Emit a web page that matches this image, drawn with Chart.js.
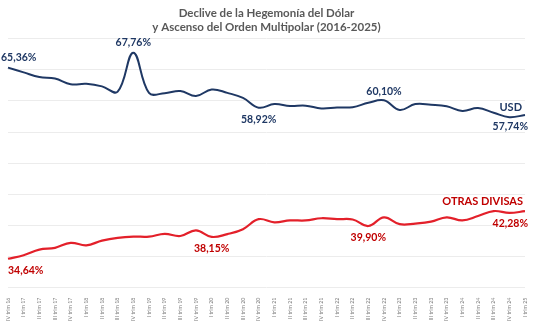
<!DOCTYPE html>
<html>
<head>
<meta charset="utf-8">
<script src="https://cdn.jsdelivr.net/npm/chart.js@4"></script>
<style>
  html, body { margin: 0; padding: 0; background: #fff; }
  #wrap { width: 535px; height: 325px; }
</style>
</head>
<body>
<div id="wrap"><canvas id="divisasChart"></canvas></div>
<script>
const quarters = [
    'IV trim 16',
    'I trim 17', 'II trim 17', 'III trim 17', 'IV trim 17',
    'I trim 18', 'II trim 18', 'III trim 18', 'IV trim 18',
    'I trim 19', 'II trim 19', 'III trim 19', 'IV trim 19',
    'I trim 20', 'II trim 20', 'III trim 20', 'IV trim 20',
    'I trim 21', 'II trim 21', 'III trim 21', 'IV trim 21',
    'I trim 22', 'II trim 22', 'III trim 22', 'IV trim 22',
    'I trim 23', 'II trim 23', 'III trim 23', 'IV trim 23',
    'I trim 24', 'II trim 24', 'III trim 24', 'IV trim 24',
    'I trim 25'
];

const usd = [
    65.36, 64.6, 63.85, 63.6, 62.7, 62.75, 62.35, 61.5, 67.76,
    61.3, 61.25, 61.6, 60.8, 61.85, 61.3, 60.5, 58.92,
    59.5, 59.2, 59.25, 58.8, 58.95, 59.0, 59.7, 60.10,
    58.55, 59.5, 59.4, 59.15, 58.4, 58.85, 58.1, 57.4, 57.74
];

const otras = [
    34.64, 35.2, 36.1, 36.4, 37.2, 36.8, 37.55, 38.0, 38.2,
    38.2, 38.65, 38.3, 39.2, 38.15, 38.6, 39.4, 41.0,
    40.5, 40.8, 40.8, 41.15, 41.0, 40.95, 39.90, 41.3,
    40.2, 40.3, 40.6, 41.3, 40.8, 41.5, 42.3, 42.0, 42.28
];

// points that carry a value label
const usdLabelIdx = [0, 8, 16, 24, 33];
const otrasLabelIdx = [0, 13, 23, 33];

const fmt = v => v.toFixed(2).replace('.', ',') + '%';

// small inline label plugin (no datalabels plugin available)
const pointLabels = {
    id: 'pointLabels',
    afterDatasetsDraw(chart) {
        const ctx = chart.ctx;
        const specs = [
            { ds: 0, color: '#1F3864', idx: usdLabelIdx,
              place: { 0: ['left', -7, -10], 8: ['center', 0, -10], 16: ['center', 0, 12], 24: ['center', 0, -9], 33: ['right', 3, 12] } },
            { ds: 1, color: '#C00000', idx: otrasLabelIdx,
              place: { 0: ['left', 0, 12], 13: ['center', 0, 12], 23: ['center', 0, 12], 33: ['right', 3, 12] } }
        ];
        ctx.save();
        ctx.font = 'bold 10.5px Lato, "Open Sans", sans-serif';
        ctx.textBaseline = 'middle';
        specs.forEach(s => {
            const meta = chart.getDatasetMeta(s.ds);
            const values = chart.data.datasets[s.ds].data;
            ctx.fillStyle = s.color;
            s.idx.forEach(i => {
                const pt = meta.data[i];
                const [align, dx, dy] = s.place[i];
                ctx.textAlign = align;
                ctx.fillText(fmt(values[i]), pt.x + dx, pt.y + dy);
            });
        });
        // series names at the end of each line
        const lastU = chart.getDatasetMeta(0).data[usd.length - 1];
        const lastO = chart.getDatasetMeta(1).data[otras.length - 1];
        ctx.font = 'bold 11px Lato, "Open Sans", sans-serif';
        ctx.textAlign = 'right';
        ctx.fillStyle = '#1F3864';
        ctx.fillText('USD', lastU.x - 3, lastU.y - 8);
        ctx.fillStyle = '#C00000';
        ctx.fillText('OTRAS DIVISAS', lastO.x - 2, lastO.y - 10);
        ctx.restore();
    }
};

const chart = new Chart(document.getElementById('divisasChart'), {
    type: 'line',
    data: {
        labels: quarters,
        datasets: [{
            label: 'USD',
            data: usd,
            borderColor: '#1F3864',
            borderWidth: 2,
            pointRadius: 0,
            tension: 0.4,
            fill: false
        }, {
            label: 'OTRAS DIVISAS',
            data: otras,
            borderColor: '#E3202A',
            borderWidth: 2.2,
            pointRadius: 0,
            tension: 0.4,
            fill: false
        }]
    },
    options: {
        responsive: true,
        maintainAspectRatio: false,
        animation: false,
        layout: { padding: { left: 8, right: 10, top: 2, bottom: 2 } },
        plugins: {
            legend: { display: false },
            tooltip: { enabled: false },
            title: {
                display: true,
                text: ['Declive de la Hegemonía del Dólar', 'y Ascenso del Orden Multipolar (2016-2025)'],
                color: '#595959',
                font: { family: 'Lato, "Open Sans", sans-serif', size: 11.5, weight: 'bold', lineHeight: 1.25 },
                padding: { top: 4, bottom: 4 }
            }
        },
        scales: {
            x: {
                grid: { display: false },
                border: { display: false },
                ticks: {
                    color: '#7f7f7f',
                    font: { family: 'Lato, sans-serif', size: 5.3 },
                    minRotation: 90,
                    maxRotation: 90,
                    autoSkip: false,
                    padding: 2
                }
            },
            y: {
                min: 30,
                max: 70,
                ticks: { display: false, stepSize: 5 },
                grid: { color: '#ececec', drawTicks: false },
                border: { display: false }
            }
        }
    },
    plugins: [pointLabels]
});
</script>
</body>
</html>
